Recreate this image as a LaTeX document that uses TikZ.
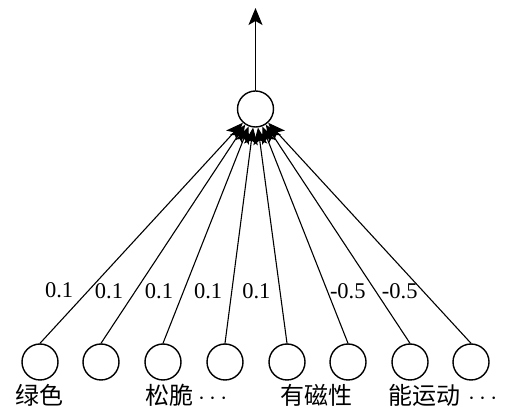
\documentclass[tikz,border=0pt]{standalone}
\usepackage{fontspec}
\setmainfont{Liberation Serif}
\newfontfamily\cjk{Noto Sans CJK SC}
\usetikzlibrary{arrows.meta, positioning}
\tikzset{every path/.style={line cap=round, line join=round}, >={Stealth[length=17pt, width=14pt, inset=4pt]}}

\begin{document}
\begin{tikzpicture}[x=1pt, y=1pt,
    neuron/.style={circle, draw, line width=1.4pt, minimum size=36pt, inner sep=0pt},
    weight/.style={font=\fontsize{22.5}{26}\selectfont, inner sep=0pt},
    feature/.style={font=\cjk\fontsize{24}{28}\selectfont, inner sep=0pt, anchor=base west}
  ]
    \useasboundingbox (0,0) rectangle (506,417);

    % output neuron
    \node [neuron] (out) at (255.5,308) {};
    \coordinate (up) at (255.5,409);
    \draw [->, line width=1.3pt] (out) -- (up);

    % input neurons and weights
    \foreach \i/\x/\w/\anc/\dx in {1/40/0.1/east/-15, 2/101/0.1/east/-12, 3/163/0.1/east/-10,
                                   4/225/0.1/east/-9, 5/287/0.1/east/-9, 6/348/-0.5/west/2,
                                   7/410/-0.5/west/6, 8/471/{}/west/0} {
        \node [neuron] (in\i) at (\x,55) {};
        \draw [->, line width=1.1pt] (in\i.north) -- (out)
            node [weight, pos=0.24, anchor=\anc, xshift=\dx pt] (w\i) {\w};
    }

    % feature names
    \node [feature] (f1) at (15,12) {绿色};
    \node [feature] (f2) at (145,12) {松脆\hspace{5pt}$\cdots$};
    \node [feature] (f3) at (280,12) {有磁性};
    \node [feature] (f4) at (388,12) {能运动\hspace{8pt}$\cdots$};
\end{tikzpicture}
\end{document}
